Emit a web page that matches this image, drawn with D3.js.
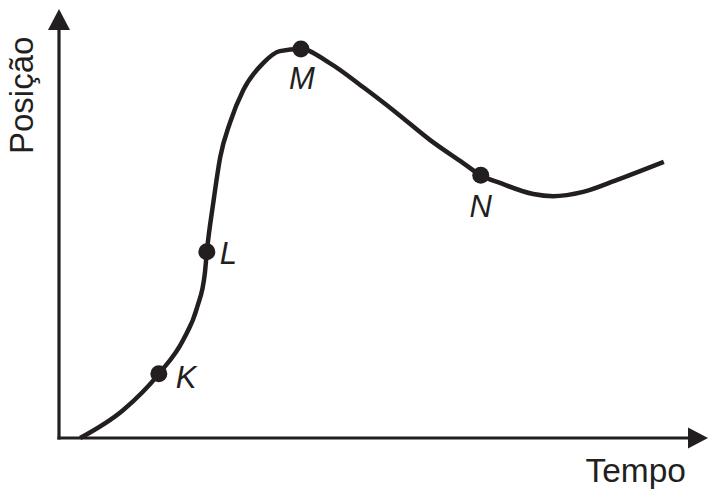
<!DOCTYPE html>
<html>
<head>
<meta charset="utf-8">
<script src="https://cdn.jsdelivr.net/npm/d3@7/dist/d3.min.js"></script>
<style>
  html, body { margin: 0; padding: 0; background: #fff; }
  svg { display: block; }
  text { font-family: "Liberation Sans", Arial, Helvetica, sans-serif; fill: #231f20; }
</style>
</head>
<body>
<svg id="chart" width="718" height="499"></svg>
<script>
// Curve (time, position) in arbitrary units 0..100
const curveTime = [3.3, 10.0, 15.6, 19.4, 21.6, 22.8, 23.1, 24.1, 25.2, 26.7, 28.8, 31.9, 34.5, 37.8, 42.3, 47.5, 52.8, 58.0, 63.1, 65.9, 68.9, 74.1, 77.2, 81.9, 87.2, 94.5];
const curvePos  = [0.0, 6.5, 15.0, 22.9, 30.6, 38.6, 43.5, 54.9, 65.7, 73.6, 81.3, 87.6, 90.4, 90.9, 87.6, 82.0, 75.9, 69.6, 64.3, 61.4, 59.6, 57.0, 56.5, 57.5, 60.3, 64.5];

// Marked points
const pointNames = ["K", "L", "M", "N"];
const pointTime  = [15.6, 23.1, 37.8, 65.9];
const pointPos   = [15.0, 43.5, 90.9, 61.4];

// Axis labels
const xLabel = "Tempo";
const yLabel = "Posição";

const ink = "#231f20";
const svg = d3.select("#chart");

const x = d3.scaleLinear().domain([0, 100]).range([59, 699]);
const y = d3.scaleLinear().domain([0, 100]).range([438, 10]);

// Axes
const axisTop = 29, axisRight = 689;
svg.append("line")
  .attr("x1", x(0)).attr("y1", y(0) + 1.5)
  .attr("x2", x(0)).attr("y2", axisTop)
  .attr("stroke", ink).attr("stroke-width", 3.2);
svg.append("line")
  .attr("x1", x(0) - 1.5).attr("y1", y(0))
  .attr("x2", axisRight).attr("y2", y(0))
  .attr("stroke", ink).attr("stroke-width", 3.2);

// Arrowheads
svg.append("path")
  .attr("d", `M${x(0)},9 L${x(0) + 11},${axisTop + 1} L${x(0) - 11},${axisTop + 1} Z`)
  .attr("fill", ink);
svg.append("path")
  .attr("d", `M708,${y(0)} L${axisRight - 1},${y(0) - 10.5} L${axisRight - 1},${y(0) + 10.5} Z`)
  .attr("fill", ink);

// Curve
const curveData = curveTime.map((t, i) => ({ t, p: curvePos[i] }));
const line = d3.line()
  .x(d => x(d.t))
  .y(d => y(d.p))
  .curve(d3.curveMonotoneX);

svg.append("path")
  .datum(curveData)
  .attr("d", line)
  .attr("fill", "none")
  .attr("stroke", ink)
  .attr("stroke-width", 4.5)
  .attr("stroke-linecap", "butt");

// Points
const pts = pointNames.map((n, i) => ({ n, t: pointTime[i], p: pointPos[i] }));
svg.selectAll("circle.pt")
  .data(pts)
  .join("circle")
  .attr("class", "pt")
  .attr("cx", d => x(d.t))
  .attr("cy", d => y(d.p))
  .attr("r", 8.5)
  .attr("fill", ink);

// Point labels (offsets relative to point)
const labelOffset = {
  K: { dx: 17, dy: 14, anchor: "start" },
  L: { dx: 13, dy: 12, anchor: "start" },
  M: { dx: 1, dy: 40, anchor: "middle" },
  N: { dx: 0, dy: 42, anchor: "middle" }
};
svg.selectAll("text.pl")
  .data(pts)
  .join("text")
  .attr("class", "pl")
  .attr("x", d => x(d.t) + labelOffset[d.n].dx)
  .attr("y", d => y(d.p) + labelOffset[d.n].dy)
  .attr("text-anchor", d => labelOffset[d.n].anchor)
  .attr("font-style", "italic")
  .attr("font-size", 31)
  .text(d => d.n);

// Axis titles
svg.append("text")
  .attr("x", 686).attr("y", 482)
  .attr("text-anchor", "end")
  .attr("font-size", 33.5)
  .text(xLabel);

svg.append("text")
  .attr("transform", "translate(33,154) rotate(-90)")
  .attr("text-anchor", "start")
  .attr("font-size", 33)
  .text(yLabel);
</script>
</body>
</html>
